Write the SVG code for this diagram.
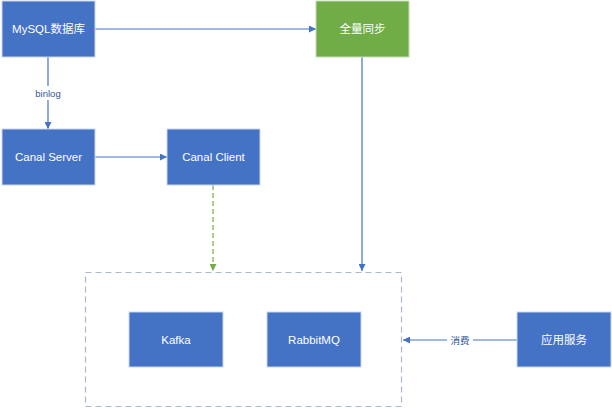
<svg xmlns="http://www.w3.org/2000/svg" width="612" height="408" viewBox="0 0 612 408">
<style>
.box{fill:#4472C4;stroke:#c9d6ee;stroke-width:1}
.green{fill:#70AD47;stroke:#c5dcb5;stroke-width:1}
.t{fill:#fff;font-family:"Liberation Sans","Noto Sans CJK SC",sans-serif;font-size:11.5px;text-anchor:middle;dominant-baseline:central}
.lbl{fill:#2F5597;font-family:"Liberation Sans","Noto Sans CJK SC",sans-serif;font-size:9.5px;text-anchor:middle;dominant-baseline:central}
.c{stroke:#4472C4;stroke-width:1.2;fill:none}
</style>
<defs>
<marker id="ab" viewBox="0 0 10 10" refX="10" refY="5" markerWidth="7" markerHeight="7" orient="auto" markerUnits="userSpaceOnUse"><path d="M0,0L10,5L0,10z" fill="#4472C4"/></marker>
<marker id="ag" viewBox="0 0 10 10" refX="10" refY="5" markerWidth="7" markerHeight="7" orient="auto" markerUnits="userSpaceOnUse"><path d="M0,0L10,5L0,10z" fill="#70AD47"/></marker>
</defs>
<rect width="612" height="408" fill="#fff"/>
<g id="container"><rect x="85.5" y="272.5" width="316" height="134" fill="none" stroke="#A9B8CF" stroke-width="1.2" stroke-dasharray="6,4"/></g>
<g id="connectors">
<line class="c" x1="95" y1="29" x2="316" y2="29" marker-end="url(#ab)"/>
<line class="c" x1="48" y1="57" x2="48" y2="129" marker-end="url(#ab)"/>
<rect x="32" y="86" width="32" height="14" fill="#fff"/>
<text class="lbl" x="48" y="93">binlog</text>
<line class="c" x1="95" y1="157" x2="167" y2="157" marker-end="url(#ab)"/>
<line x1="213" y1="185" x2="213" y2="271" stroke="#70AD47" stroke-width="1.2" stroke-dasharray="5,3" marker-end="url(#ag)"/>
<line class="c" x1="362" y1="57" x2="362" y2="271" marker-end="url(#ab)"/>
<line class="c" x1="517" y1="340" x2="403" y2="340" marker-end="url(#ab)"/>
<rect x="447" y="333" width="26" height="14" fill="#fff"/>
<text class="lbl" x="460" y="340">消费</text>
</g>
<g id="mysql"><rect class="box" x="2" y="1" width="93" height="56"/><text class="t" x="48.5" y="29">MySQL数据库</text></g>
<g id="fullsync"><rect class="green" x="316" y="1" width="93" height="56"/><text class="t" x="362.5" y="29">全量同步</text></g>
<g id="canalserver"><rect class="box" x="2" y="129" width="93" height="56"/><text class="t" x="48.5" y="157">Canal Server</text></g>
<g id="canalclient"><rect class="box" x="167" y="129" width="93" height="56"/><text class="t" x="213.5" y="157">Canal Client</text></g>
<g id="kafka"><rect class="box" x="129" y="312" width="94" height="55"/><text class="t" x="176" y="339.5">Kafka</text></g>
<g id="rabbitmq"><rect class="box" x="267" y="312" width="94" height="55"/><text class="t" x="314" y="339.5">RabbitMQ</text></g>
<g id="appservice"><rect class="box" x="517" y="312" width="94" height="55"/><text class="t" x="564" y="339.5">应用服务</text></g>
</svg>
